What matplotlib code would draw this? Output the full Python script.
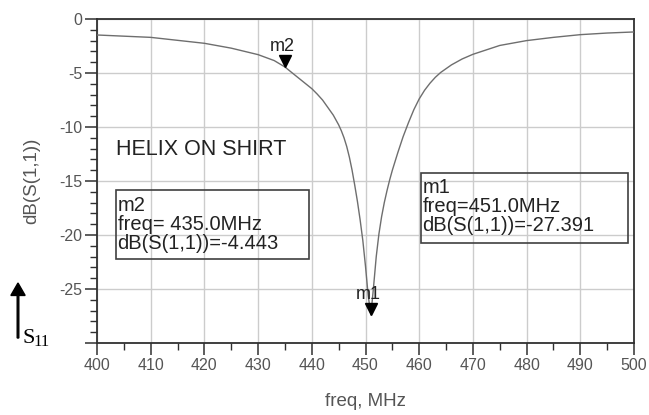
import numpy as np
import matplotlib
matplotlib.use("Agg")
import matplotlib.pyplot as plt
from matplotlib.patches import Rectangle, FancyArrow
from matplotlib.ticker import MultipleLocator
from matplotlib.transforms import offset_copy

plt.rcParams['font.family'] = ['Liberation Sans', 'DejaVu Sans']
plt.rcParams['axes.unicode_minus'] = False

# S11 sweep
freq = [400, 410, 420, 425, 430, 433, 435, 436, 437, 438, 439, 440, 441, 442,
        443, 444, 445, 445.5, 446, 446.5, 447, 447.5, 448, 448.5, 449, 449.5,
        450, 450.5, 451, 451.5, 452, 452.5, 453, 453.5, 454, 454.5, 455, 456,
        457, 458, 459, 460, 461, 462, 463, 464, 466, 468, 470, 475, 480, 485,
        490, 495, 500]
s11_db = [-1.48, -1.7, -2.25, -2.7, -3.3, -3.85, -4.443, -4.85, -5.25, -5.65,
          -6.05, -6.45, -6.95, -7.5, -8.2, -8.9, -9.8, -10.35, -11.0, -11.8,
          -12.8, -14.0, -15.4, -16.9, -18.6, -20.5, -22.9, -25.6, -27.391,
          -24.8, -22.0, -19.9, -18.3, -17.0, -15.9, -14.9, -14.0, -12.4,
          -10.9, -9.6, -8.4, -7.4, -6.6, -5.95, -5.4, -4.95, -4.25, -3.7,
          -3.27, -2.45, -2.0, -1.7, -1.45, -1.3, -1.2]

markers = {"m1": (451.0, -27.391), "m2": (435.0, -4.443)}
ytick_vals = [-30, -25, -20, -15, -10, -5, 0]
ytick_labels = ["", "-25", "-20", "-15", "-10", "-5", "0"]
xtick_vals = list(range(400, 501, 10))

fig = plt.figure(figsize=(6.49, 4.15), dpi=100)
ax = fig.add_axes([97 / 649, 1 - 343 / 415, 537 / 649, 324 / 415])

ax.plot(freq, s11_db, color='#6e6e6e', lw=1.0, zorder=3)

ax.set_xlim(400, 500)
ax.set_ylim(-30, 0)
ax.set_xticks(xtick_vals)
ax.set_yticks(ytick_vals)
ax.set_yticklabels(ytick_labels)
ax.xaxis.set_minor_locator(MultipleLocator(5))
ax.yaxis.set_minor_locator(MultipleLocator(1))
ax.grid(True, which='major', color='#cccccc', lw=1.0)
ax.set_axisbelow(True)

ax.tick_params(which='major', direction='out', length=8.5, width=1.1,
               color='#303030', labelsize=11.5, labelcolor='#555555', pad=2)
ax.tick_params(which='minor', direction='out', length=5, width=1.0, color='#303030')
for s in ax.spines.values():
    s.set_color('#303030')
    s.set_linewidth(1.3)

ax.set_xlabel("freq, MHz", fontsize=13.5, color='#555555', labelpad=15)
ax.set_ylabel("dB(S(1,1))", fontsize=13.5, color='#555555', labelpad=14)

# marker triangles with the tip on the data point
tri = offset_copy(ax.transData, fig=fig, x=0, y=4.5, units='points')
for name, (fx, fy) in markers.items():
    ax.plot(fx, fy, marker='v', ms=9, color='black', transform=tri, zorder=4,
            clip_on=False)
    ax.annotate(name, (fx, fy), xytext=(-2, 14.5), textcoords='offset points',
                ha='center', va='center', fontsize=13, color='#222222')

ax.text(0.036, 0.598, "HELIX ON SHIRT", transform=ax.transAxes, fontsize=15.5,
        va='center', ha='left', color='#222222')

boxes = [
    ((0.0354, 0.259, 0.3594, 0.213), "m2\nfreq= 435.0MHz\ndB(S(1,1))=-4.443"),
    ((0.603, 0.309, 0.386, 0.216), "m1\nfreq=451.0MHz\ndB(S(1,1))=-27.391"),
]
for (bx, by, bw, bh), txt in boxes:
    ax.add_patch(Rectangle((bx, by), bw, bh, transform=ax.transAxes, fill=False,
                           ec='#404040', lw=1.2, zorder=5))
    ax.text(bx + 0.003, by + bh - 0.017, txt, transform=ax.transAxes, fontsize=14.5,
            va='top', ha='left', linespacing=1.0, color='#222222', zorder=6)

# S11 arrow at bottom left
fig.patches.append(FancyArrow(
    18 / 649, 1 - 338 / 415, 0, 55 / 415, width=0.0025, head_width=0.022,
    head_length=0.03, length_includes_head=True, color='black',
    transform=fig.transFigure))
fig.text(22 / 649, 1 - 338 / 415, "S", fontsize=16, family='Liberation Serif',
         va='center', ha='left')
fig.text(33 / 649, 1 - 342 / 415, "11", fontsize=12, family='Liberation Serif',
         va='center', ha='left')

fig.savefig("out.png", dpi=100)
